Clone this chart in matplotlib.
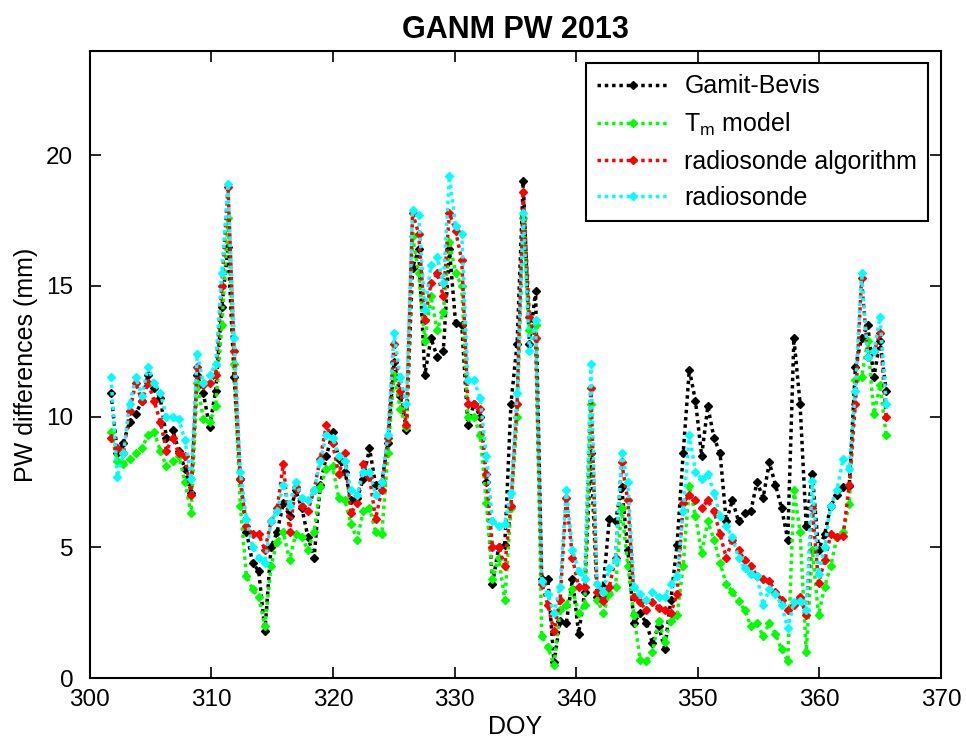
import numpy as np
import matplotlib
matplotlib.use("Agg")
import matplotlib.pyplot as plt

plt.rcParams['font.family'] = ['Liberation Sans', 'DejaVu Sans']

# twice-daily observations, day of year 2013
doy = np.linspace(301.75, 365.5, 127)

gamit_bevis = [
    10.9, 8.6, 9.0, 9.8, 10.1, 10.6, 11.6, 11.1, 10.7, 9.2,
    9.5, 8.7, 8.0, 7.1, 11.6, 10.9, 9.6, 11.0, 14.2, 16.5,
    11.5, 7.6, 5.6, 4.4, 4.1, 1.8, 5.0, 5.6, 6.7, 6.2,
    7.2, 6.5, 5.4, 4.6, 7.4, 8.5, 9.4, 8.4, 7.9, 6.8,
    6.9, 7.6, 8.8, 7.4, 7.5, 9.0, 12.1, 10.8, 9.5, 15.7,
    16.4, 11.6, 13.0, 12.3, 12.5, 16.4, 13.6, 13.5, 9.7, 10.5,
    10.0, 7.5, 3.6, 5.0, 5.1, 10.5, 12.8, 19.0, 12.8, 14.8,
    3.8, 3.8, 0.6, 2.2, 2.1, 3.8, 1.7, 3.3, 8.6, 3.1,
    3.5, 6.1, 6.0, 7.3, 4.9, 2.1, 2.5, 2.1, 1.35, 2.0,
    1.1, 3.0, 5.1, 8.6, 11.8, 10.6, 8.5, 10.4, 9.2, 8.6,
    6.0, 6.8, 6.0, 6.3, 6.4, 7.5, 6.9, 8.25, 7.4, 6.5,
    5.3, 13.0, 10.5, 5.8, 7.8, 4.9, 5.5, 6.6, 7.0, 7.3,
    7.35, 11.9, 13.0, 13.5, 11.5, 12.9, 11.0,
]
tm_model = [
    9.4, 8.3, 8.2, 8.4, 8.6, 8.8, 9.3, 9.4, 8.7, 8.1,
    8.3, 8.5, 7.5, 6.3, 11.3, 9.9, 9.8, 10.4, 13.5, 17.6,
    12.0, 6.6, 3.9, 3.4, 3.1, 2.0, 4.3, 5.2, 5.6, 4.5,
    5.5, 5.4, 4.9, 5.6, 7.3, 8.0, 8.1, 6.9, 6.8, 5.9,
    5.3, 6.4, 6.5, 5.6, 5.5, 8.6, 11.6, 10.3, 9.6, 16.9,
    15.5, 12.9, 14.6, 13.3, 14.0, 16.7, 15.5, 15.0, 10.0, 10.0,
    9.3, 6.7, 3.8, 4.6, 3.0, 6.5, 10.0, 17.6, 13.3, 13.5,
    1.6, 1.2, 0.5, 2.6, 2.8, 3.4, 2.5, 2.8, 10.5, 3.0,
    2.5, 3.2, 3.5, 6.5, 4.3, 2.4, 0.7, 0.65, 1.0, 2.2,
    1.4, 2.2, 2.4, 4.3, 7.35, 6.2, 4.8, 6.0, 5.3, 4.4,
    3.6, 3.3, 2.95, 2.6, 2.0, 2.1, 1.6, 2.1, 1.7, 1.1,
    0.65, 7.2, 5.6, 1.0, 4.9, 2.4, 3.5, 4.3, 5.4, 5.6,
    6.65, 11.4, 11.5, 12.9, 10.1, 11.2, 9.3,
]
radiosonde_alg = [
    9.2, 8.8, 8.6, 10.2, 11.3, 10.6, 11.3, 10.6, 9.8, 8.7,
    9.2, 8.6, 8.5, 7.0, 11.9, 11.2, 11.3, 11.6, 15.0, 18.8,
    12.5, 7.6, 5.8, 5.5, 5.5, 4.9, 6.0, 6.5, 8.2, 5.6,
    7.3, 6.6, 6.4, 7.2, 8.4, 9.7, 9.0, 7.8, 8.6, 6.3,
    6.7, 8.2, 7.7, 6.1, 7.2, 9.2, 12.8, 11.0, 9.7, 17.8,
    17.0, 13.7, 15.1, 15.5, 14.6, 17.8, 17.1, 16.0, 10.5, 10.5,
    10.3, 7.8, 5.0, 5.0, 4.3, 6.6, 10.5, 18.6, 13.8, 13.0,
    3.6, 2.8, 1.8, 3.0, 6.9, 4.6, 3.5, 3.5, 11.1, 3.3,
    2.95, 3.5, 4.6, 8.25, 6.8, 3.1, 2.9, 2.6, 2.9, 2.7,
    2.6, 2.5, 3.2, 6.7, 7.0, 6.8, 6.5, 6.8, 6.4, 5.5,
    4.6, 5.3, 4.9, 4.5, 4.3, 3.9, 3.8, 3.7, 3.3, 3.0,
    2.6, 2.8, 3.1, 2.4, 6.5, 3.65, 4.5, 5.5, 5.4, 5.45,
    7.4, 10.5, 15.3, 12.3, 12.5, 13.2, 10.0,
]
radiosonde = [
    11.5, 7.7, 8.6, 10.5, 11.5, 10.8, 11.9, 11.3, 10.9, 10.0,
    10.0, 9.9, 9.1, 7.6, 12.4, 11.3, 11.6, 12.0, 15.5, 18.9,
    13.0, 7.9, 6.1, 5.0, 4.6, 4.4, 6.0, 6.4, 7.4, 6.6,
    7.5, 6.9, 6.8, 7.2, 8.3, 9.3, 9.2, 8.5, 8.3, 7.2,
    7.0, 7.9, 7.9, 7.0, 7.5, 9.3, 13.2, 11.5, 10.5, 17.9,
    17.7, 14.1, 15.8, 16.1, 15.1, 19.2, 17.3, 17.0, 11.4, 11.4,
    10.7, 8.5, 6.0, 5.8, 5.9, 7.1, 10.9, 17.8, 12.5, 13.7,
    3.7, 3.2, 2.5, 3.5, 7.2, 4.9, 4.1, 3.8, 12.0, 3.6,
    3.3, 4.2, 4.5, 8.6, 7.5, 3.5, 3.2, 3.0, 3.3, 3.1,
    3.1, 3.6, 3.9, 6.4, 9.3, 7.9, 7.6, 7.8, 7.1, 6.2,
    5.8, 5.4, 4.6, 4.2, 4.0, 3.9, 2.8, 3.4, 3.2, 2.8,
    1.9, 2.9, 2.95, 2.6, 7.55, 4.0, 5.0, 6.6, 7.2, 8.4,
    8.0, 11.0, 15.5, 12.3, 12.5, 13.8, 10.5,
]

labels = ['Gamit-Bevis', r'T$_\mathregular{m}$ model', 'radiosonde algorithm', 'radiosonde']
colors = ['k', (0, 1, 0), (1, 0, 0), (0, 1, 1)]

fig = plt.figure(figsize=(9.66, 7.46), dpi=100)
ax = fig.add_axes([0.093, 0.091, 0.881, 0.841])

for series, lab, c in zip([gamit_bevis, tm_model, radiosonde_alg, radiosonde], labels, colors):
    ax.plot(doy, series, linestyle=(0, (1, 1.1)), linewidth=2.5, color=c,
            marker='D', markersize=4.3, label=lab)

ax.set_xlim(300, 370)
ax.set_ylim(0, 24)
ax.set_xticks(range(300, 371, 10))
ax.set_yticks([0, 5, 10, 15, 20])
ax.tick_params(direction='in', length=8, width=1.2, top=True, right=True,
               labelsize=17.5)
ax.tick_params(axis='x', pad=8)
ax.tick_params(axis='y', pad=12)
for s in ax.spines.values():
    s.set_linewidth(1.5)

ax.set_title('GANM PW 2013', fontsize=22, fontweight='bold', pad=9)
ax.set_xlabel('DOY', fontsize=18, labelpad=3)
ax.set_ylabel('PW differences (mm)', fontsize=18, labelpad=6)

leg = ax.legend(loc='upper right', fontsize=18, handlelength=2.9,
                labelspacing=0.48, borderaxespad=0.5, borderpad=0.45,
                fancybox=False, framealpha=1, edgecolor='k',
                handletextpad=0.6, markerscale=1.0)
leg.get_frame().set_linewidth(1.5)

fig.savefig('out.png', dpi=100)
